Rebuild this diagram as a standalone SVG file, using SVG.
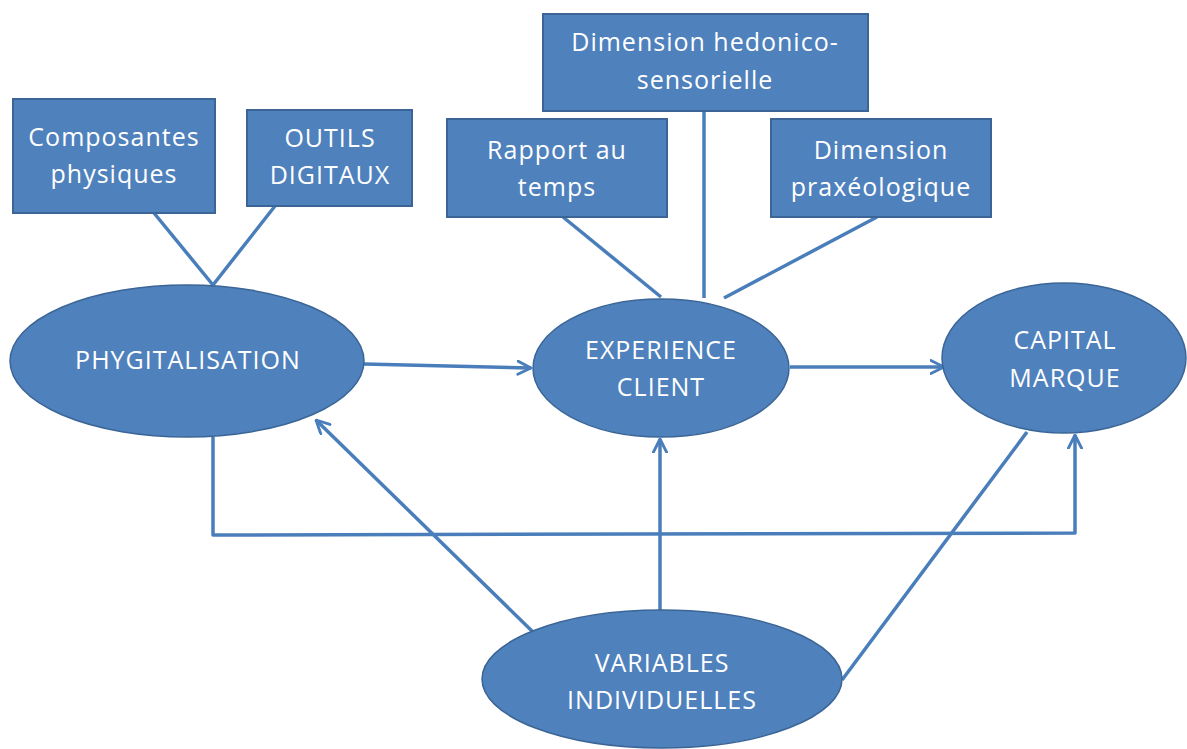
<svg xmlns="http://www.w3.org/2000/svg" width="1187" height="749" viewBox="0 0 1187 749">
<style>
.box{fill:#4F81BD;stroke:#3A6596;stroke-width:2}
.ell{fill:#4F81BD;stroke:#3A6596;stroke-width:1.5}
.t{fill:#FFFFFF;font-family:"Open Sans",Lato,"Liberation Sans",sans-serif;font-size:25px;letter-spacing:1px;text-anchor:middle}
.c{fill:none;stroke:#4A7EBB;stroke-width:3.5;stroke-linejoin:round}
</style>
<defs>
<marker id="arr" viewBox="0 0 12 12" refX="11" refY="6" markerWidth="4.5" markerHeight="4.5" orient="auto" markerUnits="strokeWidth">
<path d="M1,1 L11,6 L1,11" fill="none" stroke="#4A7EBB" stroke-width="2.2" stroke-linecap="round" stroke-linejoin="round"/>
</marker>
</defs>
<rect width="1187" height="749" fill="#FFFFFF"/>
<g id="connectors">
<line class="c" x1="154" y1="213" x2="213" y2="285"/>
<line class="c" x1="275" y1="206" x2="213" y2="285"/>
<line class="c" x1="563" y1="217" x2="661" y2="297"/>
<line class="c" x1="704" y1="111" x2="704" y2="298"/>
<line class="c" x1="877" y1="217" x2="724" y2="298"/>
<line class="c" x1="364" y1="364" x2="531" y2="368" marker-end="url(#arr)"/>
<line class="c" x1="790" y1="367" x2="944" y2="367" marker-end="url(#arr)"/>
<line class="c" x1="533" y1="632" x2="316" y2="420" marker-end="url(#arr)"/>
<line class="c" x1="660" y1="610" x2="660" y2="439" marker-end="url(#arr)"/>
<polyline class="c" points="213,437 213,535 1075,533 1075,435" marker-end="url(#arr)"/>
<line class="c" x1="842" y1="680" x2="1027" y2="432"/>
</g>
<g id="n-composantes">
<rect class="box" x="13" y="99" width="202" height="114"/>
<text class="t" x="114" y="146">Composantes</text>
<text class="t" x="114" y="183">physiques</text>
</g>
<g id="n-outils">
<rect class="box" x="247" y="110" width="165" height="96"/>
<text class="t" x="330" y="147">OUTILS</text>
<text class="t" x="330" y="184">DIGITAUX</text>
</g>
<g id="n-hedonico">
<rect class="box" x="543" y="14" width="325" height="97"/>
<text class="t" x="705" y="51">Dimension hedonico-</text>
<text class="t" x="705" y="89">sensorielle</text>
</g>
<g id="n-rapport">
<rect class="box" x="447" y="119" width="220" height="98"/>
<text class="t" x="557" y="159">Rapport au</text>
<text class="t" x="557" y="196">temps</text>
</g>
<g id="n-praxeo">
<rect class="box" x="771" y="119" width="220" height="98"/>
<text class="t" x="881" y="159">Dimension</text>
<text class="t" x="881" y="196">praxéologique</text>
</g>
<g id="n-phygitalisation">
<ellipse class="ell" cx="187" cy="361" rx="177" ry="76"/>
<text class="t" x="188" y="369">PHYGITALISATION</text>
</g>
<g id="n-experience">
<ellipse class="ell" cx="661" cy="368" rx="128" ry="69"/>
<text class="t" x="661" y="359">EXPERIENCE</text>
<text class="t" x="661" y="396">CLIENT</text>
</g>
<g id="n-capital">
<ellipse class="ell" cx="1064" cy="358" rx="122" ry="75"/>
<text class="t" x="1065" y="349">CAPITAL</text>
<text class="t" x="1065" y="387">MARQUE</text>
</g>
<g id="n-variables">
<ellipse class="ell" cx="662" cy="679" rx="180" ry="69"/>
<text class="t" x="662" y="672">VARIABLES</text>
<text class="t" x="662" y="709">INDIVIDUELLES</text>
</g>
</svg>
